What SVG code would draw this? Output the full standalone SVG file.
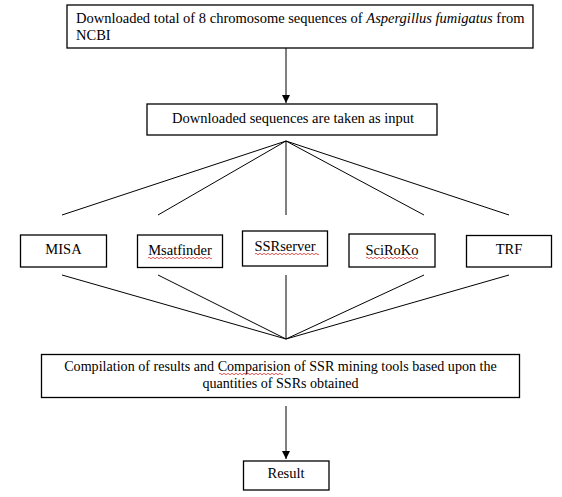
<svg xmlns="http://www.w3.org/2000/svg" width="562" height="497" viewBox="0 0 562 497" font-family="'Liberation Serif', 'DejaVu Serif', serif">
<defs>
<marker id="ah" viewBox="0 0 8 8" refX="8" refY="4" markerWidth="8" markerHeight="8" markerUnits="userSpaceOnUse" orient="auto">
<path d="M0,0 L8,4 L0,8 z" fill="#000"/>
</marker>
<path id="sq" d="M0,0 q1,-1.5 2,0 t2,0 t2,0 t2,0 t2,0 t2,0 t2,0 t2,0 t2,0 t2,0 t2,0 t2,0 t2,0 t2,0 t2,0 t2,0 t2,0 t2,0 t2,0 t2,0 t2,0 t2,0 t2,0 t2,0 t2,0 t2,0 t2,0 t2,0 t2,0 t2,0 t2,0 t2,0" fill="none" stroke="#e03030" stroke-width="0.8"/>
</defs>
<style>
.box{fill:#fff;stroke:#000;stroke-width:1.3}
.t{font-family:'Liberation Serif','DejaVu Serif',serif;font-size:14.5px;fill:#000}
.c{text-anchor:middle}
.ln{stroke:#000;stroke-width:1;fill:none}
</style>
<rect width="562" height="497" fill="#fff"/>
<g id="connectors">
<line class="ln" x1="286" y1="48" x2="286" y2="103" marker-end="url(#ah)"/>
<line class="ln" x1="286" y1="141" x2="62" y2="215"/>
<line class="ln" x1="286" y1="141" x2="158" y2="215"/>
<line class="ln" x1="286" y1="141" x2="286" y2="215"/>
<line class="ln" x1="286" y1="141" x2="424" y2="215"/>
<line class="ln" x1="286" y1="141" x2="509" y2="215"/>
<line class="ln" x1="62" y1="275" x2="286" y2="339"/>
<line class="ln" x1="158" y1="275" x2="286" y2="339"/>
<line class="ln" x1="286" y1="275" x2="286" y2="339"/>
<line class="ln" x1="424" y1="275" x2="286" y2="339"/>
<line class="ln" x1="509" y1="275" x2="286" y2="339"/>
<line class="ln" x1="286" y1="406" x2="286" y2="459" marker-end="url(#ah)"/>
</g>
<g id="download">
<rect class="box" x="67" y="5" width="466" height="43"/>
<text class="t" x="76" y="23" font-family="Liberation Serif">Downloaded total of 8 chromosome sequences of <tspan font-style="italic">Aspergillus fumigatus</tspan> from</text>
<text class="t" x="76" y="40" font-family="Liberation Serif">NCBI</text>
</g>
<g id="input">
<rect class="box" x="147" y="104" width="290" height="31"/>
<text class="t c" x="293" y="123" font-family="Liberation Serif">Downloaded sequences are taken as input</text>
</g>
<g id="misa">
<rect class="box" x="20.5" y="235" width="86" height="32"/>
<text class="t c" x="63.5" y="254" font-family="Liberation Serif">MISA</text>
</g>
<g id="msatfinder">
<rect class="box" x="137.5" y="235" width="85" height="32.5"/>
<text class="t c" x="180" y="255" font-family="Liberation Serif">Msatfinder</text>
<use href="#sq" x="148" y="258"/>
</g>
<g id="ssrserver">
<rect class="box" x="242.5" y="231" width="85" height="35"/>
<text class="t c" x="285" y="251" font-family="Liberation Serif">SSRserver</text>
<use href="#sq" x="255" y="254"/>
</g>
<g id="sciroko">
<rect class="box" x="349" y="234" width="86" height="33"/>
<text class="t c" x="392" y="255" font-family="Liberation Serif">SciRoKo</text>
<path d="M366,258 q1,-1.5 2,0 t2,0 t2,0 t2,0 t2,0 t2,0 t2,0 t2,0 t2,0 t2,0 t2,0 t2,0 t2,0 t2,0 t2,0 t2,0 t2,0 t2,0 t2,0 t2,0 t2,0 t2,0 t2,0 t2,0 t2,0 t2,0" fill="none" stroke="#e03030" stroke-width="0.8"/>
</g>
<g id="trf">
<rect class="box" x="466.5" y="235.5" width="85" height="31.5"/>
<text class="t c" x="509" y="254" font-family="Liberation Serif">TRF</text>
</g>
<g id="compilation">
<rect class="box" x="41.5" y="354.5" width="478" height="43"/>
<text class="t c" x="280.5" y="371" font-family="Liberation Serif" style="font-size:14.1px">Compilation of results and Comparision of SSR mining tools based upon the</text>
<text class="t c" x="280.5" y="388" font-family="Liberation Serif" style="font-size:14.1px">quantities of SSRs obtained</text>
<use href="#sq" x="219" y="374"/>
</g>
<g id="result">
<rect class="box" x="243.5" y="461" width="85.5" height="29"/>
<text class="t c" x="286" y="478" font-family="Liberation Serif">Result</text>
</g>
</svg>
